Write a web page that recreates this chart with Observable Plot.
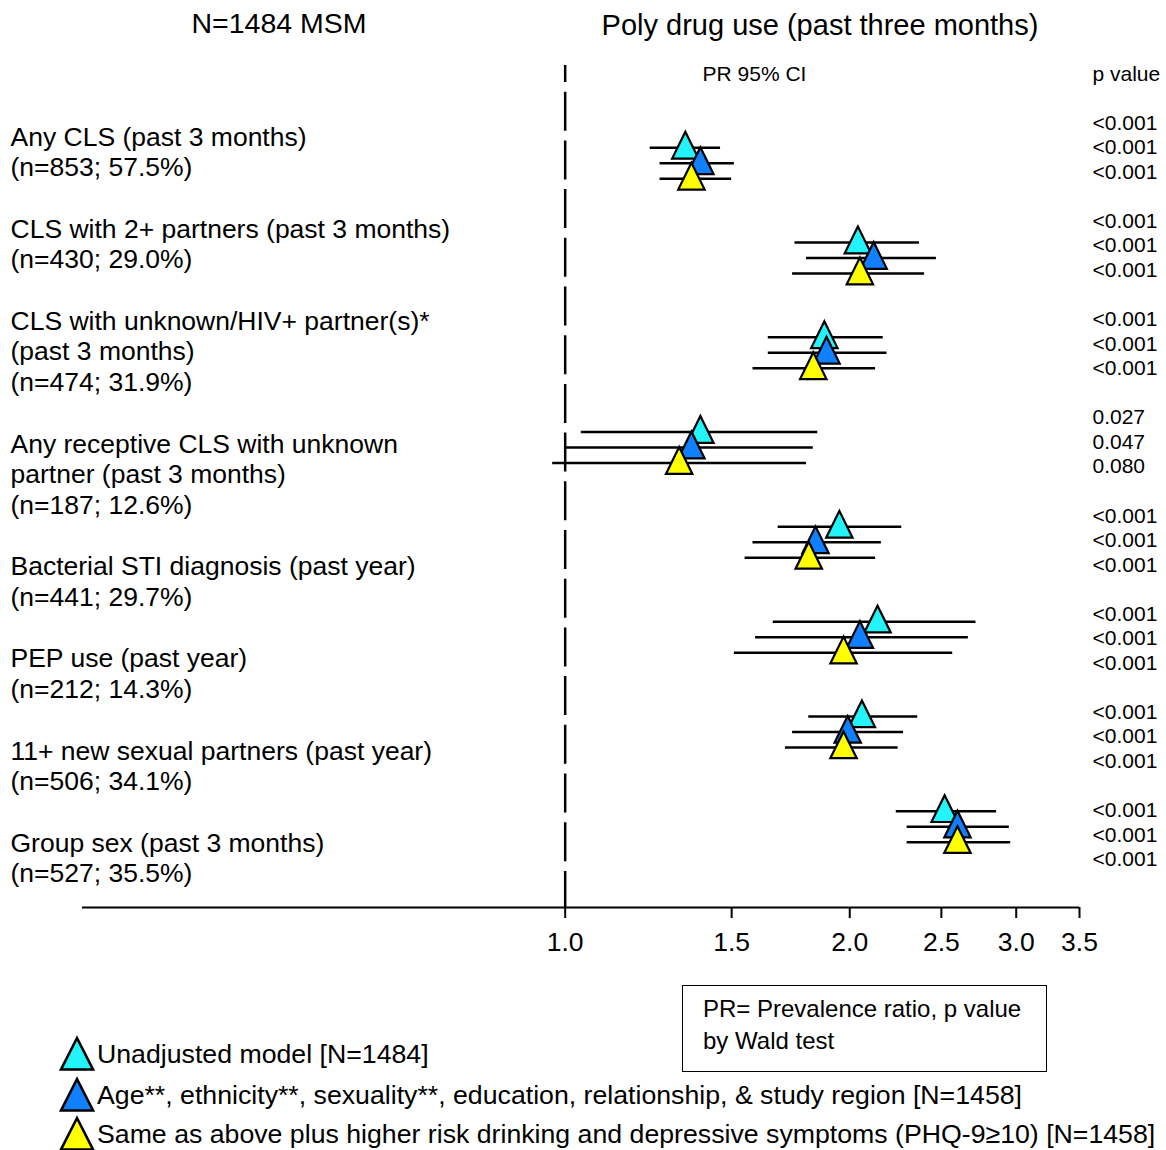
<!DOCTYPE html>
<html>
<head>
<meta charset="utf-8">
<script src="https://cdn.jsdelivr.net/npm/d3@7"></script>
<script src="https://cdn.jsdelivr.net/npm/@observablehq/plot@0.6"></script>
<style>
  body { margin: 0; background: #fff; }
  #wrap { position: relative; width: 1166px; height: 1150px; overflow: hidden; background: #fff;
          font-family: "Liberation Sans", Arial, sans-serif; color: #000; }
  .t { position: absolute; white-space: nowrap; line-height: 1; }
  #chart { position: absolute; left: 0; top: 0; }
  #chart svg g[aria-label^="x-axis"] line,
  #chart svg g[aria-label^="x-axis tick"] path { stroke-width: 2px; }
  .leg { position: absolute; left: 0; height: 40px; width: 1166px; }
  .leg svg { position: absolute; left: 58px; top: 1px; }
  .leg span { position: absolute; left: 97px; top: 0; line-height: 40px; font-size: 26.7px; white-space: nowrap; }
  #box { position: absolute; left: 682px; top: 985px; width: 365px; height: 87px; box-sizing: border-box;
         border: 1.5px solid #000; padding: 7px 0 0 20px; font-size: 24px; line-height: 32px; white-space: nowrap; }
</style>
</head>
<body>
<div id="wrap">
  <div id="chart"></div>
  <div class="t" style="left:79px;width:400px;text-align:center;top:8.6px;font-size:28.5px">N=1484 MSM</div>
  <div class="t" style="left:520px;width:600px;text-align:center;top:11.3px;font-size:29px">Poly drug use (past three months)</div>
  <div id="legend"></div>
  <div id="box">PR= Prevalence ratio, p value<br>by Wald test</div>
</div>
<script>
// ---------- data ----------
const rowLabels = [
  "Any CLS (past 3 months)\n(n=853; 57.5%)",
  "CLS with 2+ partners (past 3 months)\n(n=430; 29.0%)",
  "CLS with unknown/HIV+ partner(s)*\n(past 3 months)\n(n=474; 31.9%)",
  "Any receptive CLS with unknown\npartner (past 3 months)\n(n=187; 12.6%)",
  "Bacterial STI diagnosis (past year)\n(n=441; 29.7%)",
  "PEP use (past year)\n(n=212; 14.3%)",
  "11+ new sexual partners (past year)\n(n=506; 34.1%)",
  "Group sex (past 3 months)\n(n=527; 35.5%)"
];

const models = [
  "Unadjusted model [N=1484]",
  "Age**, ethnicity**, sexuality**, education, relationship, & study region [N=1458]",
  "Same as above plus higher risk drinking and depressive symptoms (PHQ-9\u226510) [N=1458]"
];
const modelColors = ["#22F4FA", "#1080FF", "#FFFF00"];

// Prevalence ratios and 95% CI (per model, per row)
const prUnadj = [1.34, 2.04, 1.88, 1.39, 1.95, 2.14, 2.06, 2.52];
const loUnadj = [1.23, 1.75, 1.64, 1.04, 1.68, 1.66, 1.81, 2.24];
const hiUnadj = [1.46, 2.37, 2.17, 1.85, 2.27, 2.72, 2.36, 2.86];

const prAdj1 = [1.39, 2.12, 1.89, 1.36, 1.84, 2.05, 1.99, 2.60];
const loAdj1 = [1.26, 1.80, 1.64, 1.00, 1.58, 1.59, 1.74, 2.30];
const hiAdj1 = [1.51, 2.47, 2.19, 1.83, 2.16, 2.67, 2.28, 2.95];

const prAdj2 = [1.36, 2.05, 1.83, 1.32, 1.81, 1.97, 1.97, 2.60];
const loAdj2 = [1.26, 1.74, 1.58, 0.97, 1.55, 1.51, 1.71, 2.30];
const hiAdj2 = [1.50, 2.40, 2.13, 1.80, 2.13, 2.57, 2.25, 2.96];

const pUnadj = ["<0.001", "<0.001", "<0.001", "0.027", "<0.001", "<0.001", "<0.001", "<0.001"];
const pAdj1  = ["<0.001", "<0.001", "<0.001", "0.047", "<0.001", "<0.001", "<0.001", "<0.001"];
const pAdj2  = ["<0.001", "<0.001", "<0.001", "0.080", "<0.001", "<0.001", "<0.001", "<0.001"];

const xTicks = [1, 1.5, 2, 2.5, 3, 3.5];
const xTickLabels = ["1.0", "1.5", "2.0", "2.5", "3.0", "3.5"];

// ---------- layout ----------
const W = 1166, H = 960, mL = 82, mR = 87, mT = 65, mB = 53;
const xDomain = [0.3086, 3.5];
const yDomain = [-0.8684, 8.0164];
const modelStep = 0.1635;
const FONT = '"Liberation Sans", Arial, sans-serif';

const PR = [prUnadj, prAdj1, prAdj2];
const LO = [loUnadj, loAdj1, loAdj2];
const HI = [hiUnadj, hiAdj1, hiAdj2];

const data = rowLabels.flatMap((label, i) =>
  models.map((m, j) => ({row: i, model: j, pr: PR[j][i], lo: LO[j][i], hi: HI[j][i]}))
);
const yPos = d => d.row + d.model * modelStep;

const BLANK = "\u00A0";
const leftText = rowLabels.join("\n" + BLANK + "\n");
const pText = rowLabels.map((_, i) => [pUnadj[i], pAdj1[i], pAdj2[i]].join("\n")).join("\n" + BLANK + "\n");

const triangle = {
  draw(ctx) {
    ctx.moveTo(0, -16);
    ctx.lineTo(13.2, 10.8);
    ctx.lineTo(-13.2, 10.8);
    ctx.closePath();
  }
};

const chart = Plot.plot({
  width: W, height: H,
  marginLeft: mL, marginRight: mR, marginTop: mT, marginBottom: mB,
  style: {fontSize: "26.5px", fontFamily: FONT, background: "#fff", color: "#000", overflow: "visible"},
  x: {type: "log", domain: xDomain, ticks: xTicks,
      tickFormat: d => xTickLabels[xTicks.indexOf(d)] ?? String(d),
      tickSize: 11, tickPadding: 14, label: null},
  y: {domain: yDomain, range: [mT, H - mB], axis: null},
  color: {type: "identity"},
  marks: [
    Plot.ruleY([{y: yDomain[1], x1: xDomain[0], x2: xDomain[1]}], {y: "y", x1: "x1", x2: "x2", stroke: "#000", strokeWidth: 2}),
    Plot.ruleX([1], {stroke: "#000", strokeWidth: 2.5, strokeDasharray: "39,9.7", strokeDashoffset: 22}),
    Plot.ruleY(data, {y: yPos, x1: "lo", x2: "hi", stroke: "#000", strokeWidth: 2.5}),
    Plot.dot(data, {x: "pr", y: yPos, symbol: triangle, r: 10, fill: d => modelColors[d.model],
                    stroke: "#000", strokeWidth: 2.2, strokeLinejoin: "miter", fillOpacity: 1}),
    Plot.text([leftText], {text: d => d, frameAnchor: "top-left", dx: -72, dy: 58.3, textAnchor: "start",
                           lineAnchor: "top", lineHeight: 1.1585, fontSize: 26.5, fill: "#000"}),
    Plot.text([pText], {text: d => d, frameAnchor: "top-right", dx: 13, dy: 46.8, textAnchor: "start",
                        lineAnchor: "top", lineHeight: 1.169, fontSize: 21, fill: "#000"}),
    Plot.text(["PR 95% CI"], {text: d => d, frameAnchor: "top-left", dx: 672, dy: 0.6, textAnchor: "middle",
                              lineAnchor: "top", fontSize: 21, fill: "#000"}),
    Plot.text(["p value"], {text: d => d, frameAnchor: "top-right", dx: 13, dy: 0.6, textAnchor: "start",
                            lineAnchor: "top", fontSize: 21, fill: "#000"})
  ]
});
document.getElementById("chart").appendChild(chart);

// ---------- legend ----------
const legendCenters = [1054, 1095, 1134];
const legend = document.getElementById("legend");
models.forEach((m, j) => {
  const item = document.createElement("div");
  item.className = "leg";
  item.style.top = (legendCenters[j] - 20) + "px";
  item.innerHTML =
    `<svg width="38" height="38" viewBox="0 0 38 38"><polygon points="19,3 35,34.5 3,34.5" fill="${modelColors[j]}" stroke="#000" stroke-width="2.6" stroke-linejoin="miter"/></svg>` +
    `<span></span>`;
  item.querySelector("span").textContent = m;
  legend.appendChild(item);
});
</script>
</body>
</html>
